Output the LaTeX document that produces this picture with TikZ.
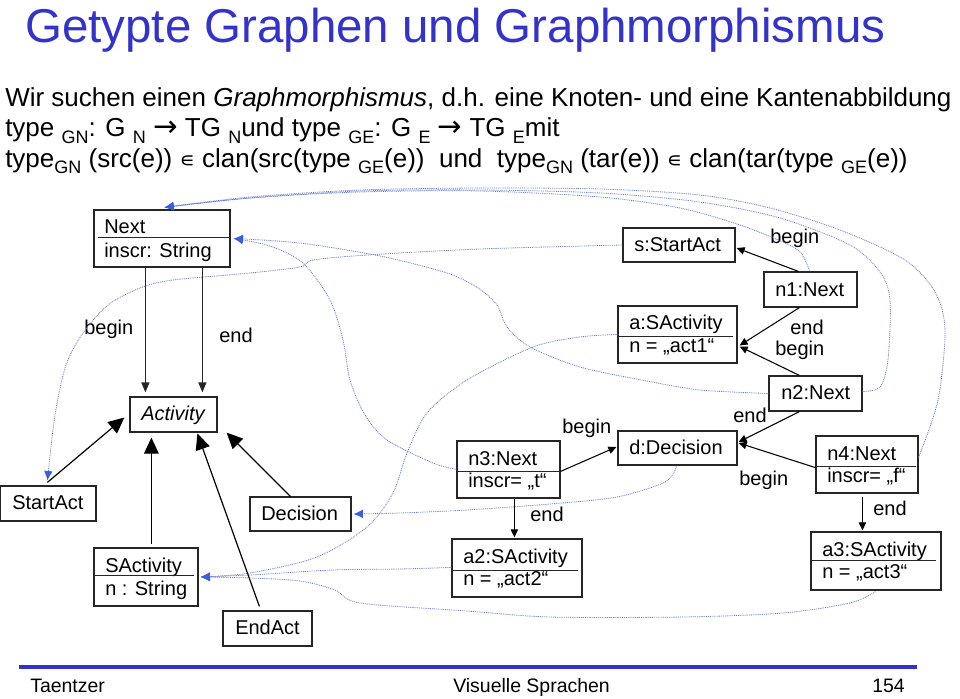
\documentclass[tikz,border=0pt]{standalone}
\usepackage{fontspec}
\setmainfont{Liberation Sans}
\newfontfamily\dejavu{DejaVu Sans}
\usetikzlibrary{arrows.meta,calc,fit}
\definecolor{titleblue}{RGB}{51,51,204}
\definecolor{mapline}{RGB}{105,125,205}
\definecolor{maptip}{RGB}{55,95,230}
\newcommand\sbs[1]{\raisebox{-0.26em}{\fontsize{13.5}{14}\selectfont #1}}
\newcommand\marr{{\dejavu\fontsize{22}{22}\selectfont →}}
\newcommand\elm{{\dejavu\fontsize{16}{16}\selectfont ∊}}
\begin{document}
\begin{tikzpicture}[x=0.75pt,y=-0.75pt,
  box/.style={draw=black!85, line width=0.9pt, inner sep=0pt, fit={#1}},
  divline/.style={draw=black!85, line width=0.9pt},
  txt/.style={anchor=base west, inner sep=0pt, font=\fontsize{15}{18}\selectfont},
  hdr/.style={anchor=base west, inner sep=0pt, font=\fontsize{19.5}{22}\selectfont},
  tedge/.style={draw=black!85, line width=0.9pt, -{Triangle[length=7.5pt,width=6pt]}},
  inh/.style={draw=black, line width=0.9pt, -{Triangle[length=12pt,width=11pt]}},
  iedge/.style={draw=black, line width=0.8pt, -{Triangle[length=6pt,width=5.5pt]}},
  map/.style={draw=mapline, line width=0.6pt, dash pattern=on 0.7pt off 0.7pt},
  maparr/.style={map, -{Latex[length=7pt,width=6.5pt,color=maptip]}}
]
\useasboundingbox (0,0) rectangle (960,699);
\fill[white] (0,0) rectangle (960,699);

% header
\node[anchor=base west, inner sep=0pt, text=titleblue, font=\fontsize{35.6}{40}\selectfont] (title) at (25,43) {Getypte Graphen und Graphmorphismus};
\node[hdr] (l1) at (5,107) {Wir suchen einen \textit{Graphmorphismus}, d.h. eine Knoten- und eine Kantenabbildung};
\node[hdr] (l2) at (5,137) {type \sbs{GN}: G \sbs{N} \marr\ TG \sbs{N}und type \sbs{GE}: G \sbs{E} \marr\ TG \sbs{E}mit};
\node[hdr] (l3) at (5,167) {type\sbs{GN} (src(e)) \elm\ clan(src(type \sbs{GE}(e))\ \ und\ \ type\sbs{GN} (tar(e)) \elm\ clan(tar(type \sbs{GE}(e))};

% type graph
\node[box={(94,210)(230,267)}] (Next) {};
\node[txt] (NextA) at (104,233) {Next};
\node[txt] (NextB) at (104,257) {inscr: String};
\draw[divline] ($(Next.north west)+(5,28)$) -- ($(Next.north east)+(0,28)$);

\node[box={(130,397)(217,432)}] (Activity) {};
\node[txt] (ActivityT) at (141,420) {\itshape Activity};

\node[box={(0,486)(96,521)}] (StartAct) {};
\node[txt] (StartActT) at (12,509) {StartAct};

\node[box={(94,548)(198,606)}] (SActivity) {};
\node[txt] (SActivityA) at (105,572) {SActivity};
\node[txt] (SActivityB) at (105,595) {n : String};
\draw[divline] ($(SActivity.north west)+(0,28)$) -- ($(SActivity.north east)+(-5,28)$);

\node[box={(250,497)(351,531)}] (Decision) {};
\node[txt] (DecisionT) at (261,520) {Decision};

\node[box={(223,611)(312,646)}] (EndAct) {};
\node[txt] (EndActT) at (235,634) {EndAct};

\draw[tedge] ($(Next.south west)+(52,0)$) -- ($(Activity.north west)+(16,-4)$);
\draw[tedge] ($(Next.south west)+(109,0)$) -- ($(Activity.north west)+(73,-4)$);
\node[txt] (lbBegin) at (84,334) {begin};
\node[txt] (lbEnd) at (219,342) {end};

\draw[inh] ($(StartAct.north west)+(48,-3)$) -- ($(Activity.west)+(-5,3)$);
\draw[inh] ($(SActivity.north west)+(58,-3)$) -- ($(Activity.south west)+(22,5)$);
\draw[inh] ($(EndAct.north west)+(37,-4)$) -- ($(Activity.south west)+(68,1)$);
\draw[inh] ($(Decision.north west)+(41,0)$) -- ($(Activity.south east)+(9,0)$);

% instance graph
\node[box={(623,228)(735,262)}] (sS) {};
\node[txt] (sST) at (634,251) {s:StartAct};

\node[box={(764,272)(857,307)}] (n1) {};
\node[txt] (n1T) at (775,296) {n1:Next};

\node[box={(618,306)(737,363)}] (a) {};
\node[txt] (aA) at (629,329) {a:SActivity};
\node[txt] (aB) at (629,352) {n = „act1“};
\draw[divline] ($(a.north west)+(0,31)$) -- ($(a.north east)+(-5,31)$);

\node[box={(769,376)(862,411)}] (n2) {};
\node[txt] (n2T) at (781,399) {n2:Next};

\node[box={(618,431)(737,465)}] (d) {};
\node[txt] (dT) at (629,454) {d:Decision};

\node[box={(457,441)(560,498)}] (n3) {};
\node[txt] (n3A) at (468,465) {n3:Next};
\node[txt] (n3B) at (468,487) {inscr= „t“};
\draw[divline] ($(n3.north west)+(0,31)$) -- ($(n3.north east)+(0,31)$);

\node[box={(452,539)(582,597)}] (a2) {};
\node[txt] (a2A) at (463,563) {a2:SActivity};
\node[txt] (a2B) at (463,585) {n = „act2“};
\draw[divline] ($(a2.north west)+(0,32)$) -- ($(a2.north east)+(-5,32)$);

\node[box={(816,436)(918,493)}] (n4) {};
\node[txt] (n4A) at (827,460) {n4:Next};
\node[txt] (n4B) at (827,482) {inscr= „f“};
\draw[divline] ($(n4.north west)+(0,31)$) -- ($(n4.north east)+(-3,31)$);

\node[box={(811,532)(941,590)}] (a3) {};
\node[txt] (a3A) at (822,556) {a3:SActivity};
\node[txt] (a3B) at (822,578) {n = „act3“};
\draw[divline] ($(a3.north west)+(0,29)$) -- ($(a3.north east)+(-6,29)$);

\draw[iedge] ($(n1.north west)+(35,0)$) -- ($(sS.east)+(1,3)$);
\draw[iedge] ($(n1.south west)+(36,0)$) -- ($(a.east)+(2,11)$);
\draw[iedge] ($(n2.north west)+(31,0)$) -- ($(a.east)+(2,12)$);
\draw[iedge] ($(n2.south west)+(31,0)$) -- ($(d.east)+(1,-6)$);
\draw[iedge] ($(n4.south west)+(0,-26)$) -- ($(d.east)+(1,-5)$);
\draw[iedge] ($(n3.north east)+(0,31)$) -- ($(d.west)+(-1,-1)$);
\draw[iedge] ($(n3.south west)+(58,0)$) -- ($(a2.north west)+(63,-1)$);
\draw[iedge] ($(n4.south west)+(47,3)$) -- ($(a3.north west)+(52,-1)$);

\node[txt] (lb1) at (770,243) {begin};
\node[txt] (lb2) at (790,334) {end};
\node[txt] (lb3) at (775,355) {begin};
\node[txt] (lb4) at (733,422) {end};
\node[txt] (lb5) at (562,433) {begin};
\node[txt] (lb6) at (739,485) {begin};
\node[txt] (lb7) at (530,521) {end};
\node[txt] (lb8) at (873,515) {end};

% mapping (typing) curves
\coordinate (tipStart) at ($(StartAct.north west)+(48,-5)$);
\coordinate (tipNextTop) at ($(Next.north west)+(71,-2)$);
\coordinate (tipNextRight) at ($(Next.east)+(3,0)$);
\coordinate (tipSAct) at ($(SActivity.east)+(2,0)$);
\coordinate (tipDec) at ($(Decision.east)+(2,0)$);
\coordinate (sSw) at (sS.west);
\coordinate (n1n) at ($(n1.north west)+(46,-1)$);
\coordinate (n2e) at ($(n2.east)+(0,-2)$);
\coordinate (n2w) at (n2.west);
\coordinate (n4e) at ($(n4.north east)+(0,22)$);
\coordinate (n3w) at ($(n3.north west)+(0,29)$);
\coordinate (aw) at ($(a.north west)+(0,29)$);
\coordinate (a2w) at ($(a2.north west)+(0,29)$);
\coordinate (a3s) at ($(a3.south west)+(65,1)$);
\coordinate (ds) at ($(d.south west)+(59,1)$);

\draw[maparr] plot[smooth] coordinates {(sSw) (480,249) (367,255) (313,260) (300,267) (250,273) (173,280) (140,288) (108,305) (83,333) (66,365) (55,415) (tipStart)};
\draw[maparr] plot[smooth] coordinates {(n1n) (801,253) (785,243) (740,225) (680,208) (600,197) (480,191) (360,192) (250,198) (tipNextTop)};
\draw[maparr] plot[smooth] coordinates {(n2e) (880,387) (888,360) (890,300) (880,272) (850,245) (780,218) (700,202) (600,193) (480,190) (360,191) (250,198) (tipNextTop)};
\draw[maparr] plot[smooth] coordinates {(n4e) (938,400) (945,330) (935,292) (905,260) (840,230) (770,208) (700,195) (600,189) (480,188) (360,190) (250,197) (tipNextTop)};
\draw[maparr] plot[smooth] coordinates {(n2w) (700,390) (647,381) (580,367) (530,347) (507,327) (497,305) (478,288) (447,273) (380,256) (300,243) (tipNextRight)};
\draw[maparr] plot[smooth] coordinates {(n3w) (433,463) (387,440) (365,415) (350,380) (343,340) (330,300) (303,263) (270,246) (tipNextRight)};
\draw[maparr] plot[smooth] coordinates {(aw) (580,337) (533,347) (467,380) (427,413) (407,453) (393,493) (367,527) (317,557) (250,573) (tipSAct)};
\draw[maparr] plot[smooth] coordinates {(a2w) (400,569) (333,570) (250,575) (tipSAct)};
\draw[maparr] plot[smooth] coordinates {(a3s) (850,603) (783,613) (683,617) (550,617) (467,611) (360,603) (335,590) (300,581) (250,578) (tipSAct)};
\draw[maparr] plot[smooth] coordinates {(ds) (665,482) (617,497) (550,504) (467,510) (400,513) (tipDec)};

% footer
\coordinate (fl) at (19,667);
\coordinate (fr) at (917,667);
\draw[titleblue, line width=3.2pt] (fl) -- (fr);
\node[anchor=base west, inner sep=0pt, font=\fontsize{14.6}{16}\selectfont] (f1) at (30,692) {Taentzer};
\node[anchor=base west, inner sep=0pt, font=\fontsize{14.6}{16}\selectfont] (f2) at (453,692) {Visuelle Sprachen};
\node[anchor=base west, inner sep=0pt, font=\fontsize{14.6}{16}\selectfont] (f3) at (872,692) {154};
\end{tikzpicture}
\end{document}
